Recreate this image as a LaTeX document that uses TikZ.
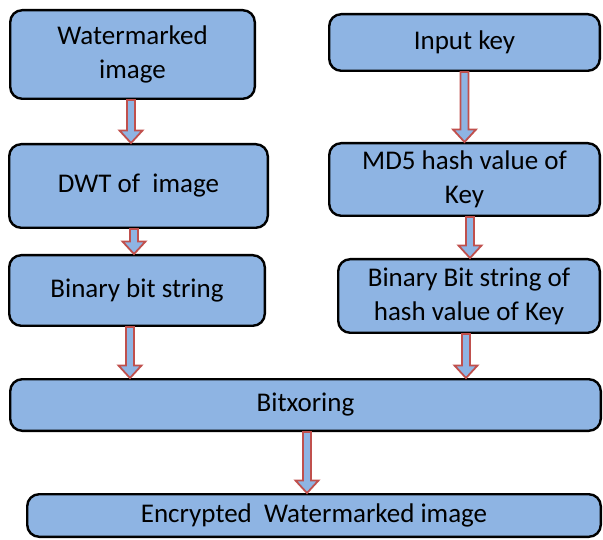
\documentclass[tikz,border=0pt]{standalone}
\usepackage{fontspec}
\setmainfont{Carlito}
\usetikzlibrary{calc}

\definecolor{boxblue}{HTML}{8EB4E3}
\definecolor{arrowred}{HTML}{C0504D}

\tikzset{
  stepbox/.style={draw=black, line width=2.4pt, rounded corners=12pt,
    fill=boxblue, inner sep=0pt, align=center,
    font=\fontsize{27}{34}\selectfont},
  hollowarrow/.style={draw=arrowred, fill=boxblue, line width=1.8pt,
    line join=miter},
}

% Hollow block arrow: starts at #1, runs straight down to the level of #2
\newcommand{\blockarrow}[2]{%
  \draw[hollowarrow] let \p1=(#1), \p2=(#2) in
    (\x1-4pt,\y1) -- (\x1-4pt,\y2+12.5pt) -- (\x1-11.5pt,\y2+12.5pt)
    -- (\x1,\y2) -- (\x1+11.5pt,\y2+12.5pt) -- (\x1+4pt,\y2+12.5pt)
    -- (\x1+4pt,\y1) -- cycle;}

\begin{document}
\begin{tikzpicture}[x=1pt, y=-1pt]
\useasboundingbox (0,0) rectangle (603,540);

% left column
\coordinate (b1c) at (132.5,54.5);
\coordinate (b2c) at (138.5,186);
\coordinate (b3c) at (137,290.5);
% right column
\coordinate (k1c) at (464.5,42.5);
\coordinate (k2c) at (464.5,179.5);
\coordinate (k3c) at (469,296);
% merged part
\coordinate (bxc) at (305.5,405);
\coordinate (enc) at (314,515.5);

\path
  (b1c) node[stepbox, minimum width=244.6pt, minimum height=88.6pt] (b1) {Watermarked\\image}
  (b2c) node[stepbox, minimum width=258.6pt, minimum height=83.6pt] (b2) {DWT of \ image}
  (b3c) node[stepbox, minimum width=255.6pt, minimum height=70.6pt] (b3) {Binary bit string}
  (k1c) node[stepbox, minimum width=270.6pt, minimum height=56.6pt] (k1) {Input key}
  (k2c) node[stepbox, minimum width=270.6pt, minimum height=72.6pt] (k2) {MD5 hash value of\\Key}
  (k3c) node[stepbox, minimum width=261.6pt, minimum height=73.6pt] (k3) {Binary Bit string of\\hash value of Key}
  (bxc) node[stepbox, minimum width=590.6pt, minimum height=51.6pt] (bx) {Bitxoring}
  (enc) node[stepbox, minimum width=573.6pt, minimum height=42.6pt] (en) {Encrypted \ Watermarked image};

% connectors
\blockarrow{[xshift=-1.5pt]b1.south}{b2.north}
\blockarrow{[xshift=-4.5pt]b2.south}{b3.north}
\blockarrow{[xshift=-7pt]b3.south}{b3.south |- bx.north}
\blockarrow{k1.south}{k2.north}
\blockarrow{[xshift=5.5pt]k2.south}{k3.north}
\blockarrow{[xshift=-3pt]k3.south}{k3.south |- bx.north}
\blockarrow{[xshift=1.5pt]bx.south}{en.north}

\end{tikzpicture}
\end{document}
